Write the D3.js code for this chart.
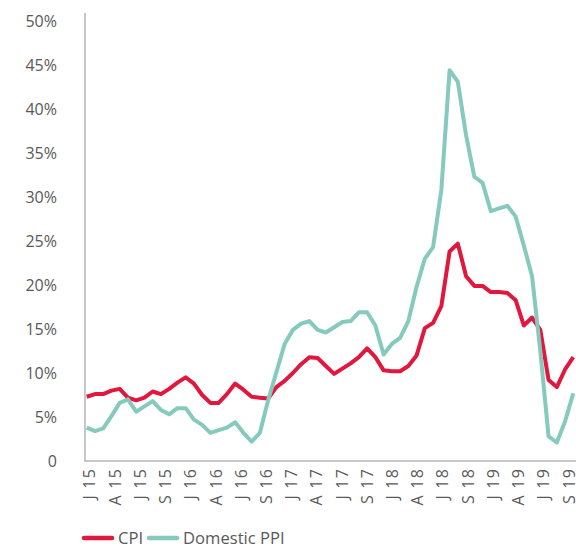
<!DOCTYPE html>
<html>
<head>
<meta charset="utf-8">
<script src="https://cdn.jsdelivr.net/npm/d3@7"></script>
<style>
    body { margin: 0; background: #fff; }
    svg text { font-family: "Open Sans", "Noto Sans", sans-serif; fill: #595959; }
</style>
</head>
<body>
<svg id="chart" width="576" height="547"></svg>
<script>
// Dati mensili gen 2015 - dic 2019 (valori in %)
const cpi = [
    7.3, 7.6, 7.6, 8.0, 8.2, 7.2, 6.9, 7.2, 7.9, 7.6, 8.2, 8.9,
    9.5, 8.8, 7.5, 6.6, 6.6, 7.6, 8.8, 8.1, 7.3, 7.2, 7.1, 8.4,
    9.1, 10.0, 11.0, 11.8, 11.7, 10.8, 9.9, 10.5, 11.1, 11.8, 12.8, 11.8,
    10.3, 10.2, 10.2, 10.8, 12.0, 15.1, 15.7, 17.6, 23.8, 24.7, 21.0, 19.9,
    19.9, 19.2, 19.2, 19.1, 18.3, 15.4, 16.3, 14.9, 9.2, 8.4, 10.4, 11.8
];

const ppi = [
    3.8, 3.4, 3.7, 5.1, 6.6, 7.0, 5.6, 6.2, 6.8, 5.8, 5.3, 6.0,
    6.0, 4.7, 4.1, 3.2, 3.5, 3.8, 4.4, 3.2, 2.2, 3.2, 6.9, 10.1,
    13.3, 14.9, 15.6, 15.9, 14.9, 14.6, 15.2, 15.8, 15.9, 16.9, 16.9, 15.4,
    12.1, 13.3, 14.0, 15.9, 19.8, 23.0, 24.3, 30.8, 44.4, 43.1, 37.0, 32.3,
    31.6, 28.4, 28.7, 29.0, 27.8, 24.5, 21.0, 12.5, 2.8, 2.1, 4.5, 7.7
];

// Etichette asse X (ogni 3 mesi)
const tickLabels = [
    "J 15", "A 15", "J 15", "S 15", "J 16", "A 16", "J 16", "S 16",
    "J 17", "A 17", "J 17", "S 17", "J 18", "A 18", "J 18", "S 18",
    "J 19", "A 19", "J 19", "S 19"
];

const yTicks = [0, 5, 10, 15, 20, 25, 30, 35, 40, 45, 50];

const seriesNames = ["CPI", "Domestic PPI"];
const seriesColors = ["#e2173d", "#86cabd"];

const CONFIG = {
    left: 86.7,
    right: 573.3,
    top: 21,
    bottom: 461,
    axisColor: "#b4b4b4",
    lineWidth: 4
};

const svg = d3.select("#chart");

const x = d3.scaleLinear()
    .domain([0, cpi.length - 1])
    .range([CONFIG.left, CONFIG.right]);

const y = d3.scaleLinear()
    .domain([0, 50])
    .range([CONFIG.bottom, CONFIG.top]);

// Scala per le etichette (leggermente più larga dei punti)
const xLabel = d3.scalePoint()
    .domain(d3.range(tickLabels.length))
    .range([x(0) + 3, x(57) + 12]);

/**
 * Assi
 */
const yAxis = d3.axisLeft(y)
    .tickValues(yTicks)
    .tickSize(0)
    .tickPadding(0)
    .tickFormat(d => d === 0 ? "0" : d + "%");

svg.append("g")
    .attr("transform", "translate(57,0)")
    .call(yAxis)
    .call(g => g.select(".domain").remove())
    .selectAll("text")
    .attr("font-size", 16)
    .attr("font-family", null);

// Linea asse Y
svg.append("line")
    .attr("x1", 85).attr("x2", 85)
    .attr("y1", 13).attr("y2", CONFIG.bottom)
    .attr("stroke", CONFIG.axisColor)
    .attr("stroke-width", 1.5);

// Linea asse X
svg.append("line")
    .attr("x1", 84.25).attr("x2", 576)
    .attr("y1", CONFIG.bottom).attr("y2", CONFIG.bottom)
    .attr("stroke", CONFIG.axisColor)
    .attr("stroke-width", 1.5);

// Etichette asse X ruotate
svg.append("g")
    .selectAll("text")
    .data(tickLabels)
    .join("text")
    .attr("transform", (d, i) => `translate(${xLabel(i)}, 468) rotate(-90)`)
    .attr("text-anchor", "end")
    .attr("dy", "0.36em")
    .attr("font-size", 16)
    .style("letter-spacing", "1.2px")
    .text(d => d);

/**
 * Serie
 */
const line = d3.line()
    .x((d, i) => x(i))
    .y(d => y(d));

[cpi, ppi].forEach((values, k) => {
    svg.append("path")
        .datum(values)
        .attr("fill", "none")
        .attr("stroke", seriesColors[k])
        .attr("stroke-width", CONFIG.lineWidth)
        .attr("stroke-linejoin", "round")
        .attr("d", line);
});

/**
 * Legenda
 */
const legend = svg.append("g")
    .attr("transform", "translate(84, 538)");

let offset = 0;
seriesNames.forEach((name, k) => {
    legend.append("line")
        .attr("x1", offset).attr("x2", offset + 28)
        .attr("stroke", seriesColors[k])
        .attr("stroke-width", 4.5)
        .attr("stroke-linecap", "round");

    const t = legend.append("text")
        .attr("x", offset + 34)
        .attr("dy", "0.36em")
        .attr("font-size", 16.6)
        .text(name);

    offset += 34 + t.node().getComputedTextLength() + 6;
});
</script>
</body>
</html>
